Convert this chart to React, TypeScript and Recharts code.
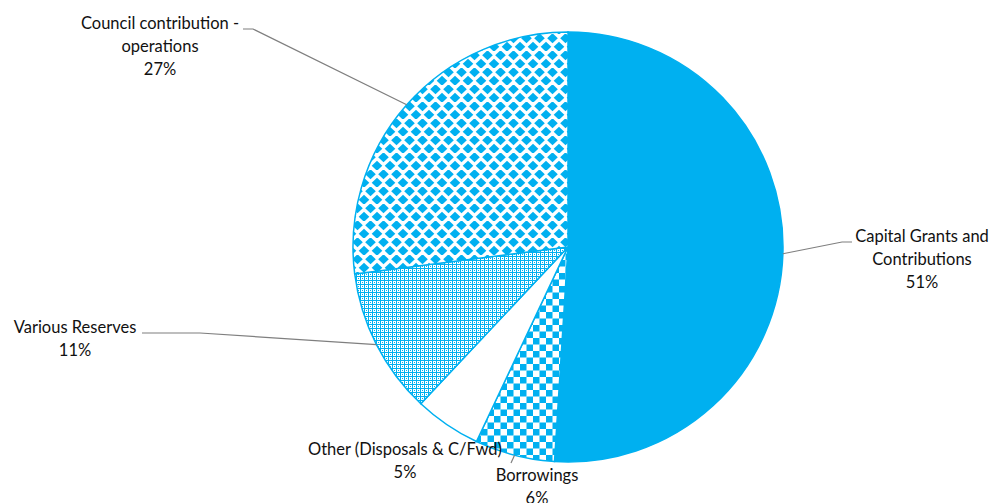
import React from 'react';
import { PieChart, Pie, Cell } from 'recharts';

// funding sources, clockwise from 12 o'clock
const SOURCES = [
  'Capital Grants and Contributions',
  'Borrowings',
  'Other (Disposals & C/Fwd)',
  'Various Reserves',
  'Council contribution - operations',
];
const SHARES = [51, 6, 5, 11, 27];
const FILLS = ['#00B0F0', 'url(#checker)', '#ffffff', 'url(#fine)', 'url(#diamond)'];

const data = SOURCES.map((name, i) => ({ name, value: SHARES[i] }));

const BLUE = '#00B0F0';
const RAD = Math.PI / 180;

// label placement: text lines, anchor x, first line y, optional elbow
const LABELS: Record<string, { lines: string[]; x: number; y: number; elbow?: [number, number][] }> = {
  'Capital Grants and Contributions': {
    lines: ['Capital Grants and', 'Contributions'],
    x: 922,
    y: 236,
    elbow: [[842, 242], [852, 242]],
  },
  Borrowings: { lines: ['Borrowings'], x: 537, y: 475, elbow: [[511, 463]] },
  'Other (Disposals & C/Fwd)': { lines: ['Other (Disposals & C/Fwd)'], x: 405, y: 449 },
  'Various Reserves': {
    lines: ['Various Reserves'],
    x: 75,
    y: 327,
    elbow: [[200, 333], [142, 333]],
  },
  'Council contribution - operations': {
    lines: ['Council contribution -', 'operations'],
    x: 160,
    y: 23,
    elbow: [[253, 29], [243, 29]],
  },
};

const renderLabel = (props: any) => {
  const { cx, cy, midAngle, outerRadius, name, percent } = props;
  const cfg = LABELS[name];
  if (!cfg) return null;
  const sx = cx + outerRadius * Math.cos(-midAngle * RAD);
  const sy = cy + outerRadius * Math.sin(-midAngle * RAD);
  const pts = cfg.elbow ? [[sx, sy], ...cfg.elbow] : [];
  const lines = [...cfg.lines, `${Math.round(percent * 100)}%`];
  return (
    <g>
      {pts.length > 1 && (
        <polyline
          points={pts.map((p) => p.join(',')).join(' ')}
          fill="none"
          stroke="#7f7f7f"
          strokeWidth={1.2}
        />
      )}
      <text
        x={cfg.x}
        y={cfg.y}
        textAnchor="middle"
        dominantBaseline="central"
        fontFamily="Lato, 'Open Sans', sans-serif"
        fontSize={16.5}
        fill="#111"
      >
        {lines.map((l, i) => (
          <tspan key={i} x={cfg.x} dy={i === 0 ? 0 : 23}>
            {l}
          </tspan>
        ))}
      </text>
    </g>
  );
};

export default function App() {
  return (
    <div style={{ position: 'absolute', left: 0, top: 0, width: 992, height: 503, background: '#fff' }}>
      <svg width={0} height={0} style={{ position: 'absolute' }}>
        <defs>
          <pattern id="diamond" width={13} height={17} patternUnits="userSpaceOnUse">
            <rect width={13} height={17} fill="#fff" />
            <polygon points="6.5,-0.8 11.8,4.25 6.5,9.3 1.2,4.25" fill={BLUE} />
            <polygon points="0,7.7 5.3,12.75 0,17.8 -5.3,12.75" fill={BLUE} />
            <polygon points="13,7.7 18.3,12.75 13,17.8 7.7,12.75" fill={BLUE} />
          </pattern>
          <pattern id="checker" width={13} height={13} patternUnits="userSpaceOnUse">
            <rect width={13} height={13} fill="#fff" />
            <rect width={6.5} height={6.5} fill={BLUE} />
            <rect x={6.5} y={6.5} width={6.5} height={6.5} fill={BLUE} />
          </pattern>
          <pattern id="fine" width={4} height={4} patternUnits="userSpaceOnUse">
            <rect width={4} height={4} fill="#fff" />
            <rect width={4} height={1} fill={BLUE} />
            <rect width={1} height={4} fill={BLUE} />
            <rect x={2} y={2} width={1} height={1} fill={BLUE} />
          </pattern>
        </defs>
      </svg>
      <PieChart width={992} height={503}>
        <Pie
          data={data}
          dataKey="value"
          nameKey="name"
          cx={563}
          cy={242}
          outerRadius={215}
          startAngle={90}
          endAngle={-270}
          stroke={BLUE}
          strokeWidth={1.5}
          label={renderLabel}
          labelLine={false}
          isAnimationActive={false}
        >
          {data.map((d, i) => (
            <Cell key={d.name} fill={FILLS[i]} />
          ))}
        </Pie>
      </PieChart>
    </div>
  );
}
